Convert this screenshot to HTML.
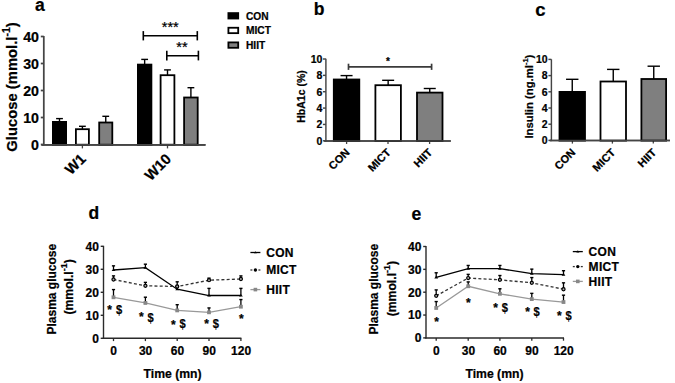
<!DOCTYPE html>
<html><head><meta charset="utf-8"><style>
html,body{margin:0;padding:0;background:#fff;width:675px;height:383px;overflow:hidden}
svg{display:block;font-family:"Liberation Sans", sans-serif}
text{stroke:#000;stroke-width:0.22px}
</style></head><body>
<svg width="675" height="383" viewBox="0 0 675 383">
<rect width="675" height="383" fill="#fff"/>
<text x="35.0" y="10.8" font-size="17.5" font-weight="bold" text-anchor="start" fill="#000" >a</text>
<line x1="43.8" y1="36.0" x2="43.8" y2="145.2" stroke="#454545" stroke-width="1.75" />
<line x1="40.8" y1="144.5" x2="43.8" y2="144.5" stroke="#454545" stroke-width="1.75" />
<text x="39.0" y="149.5" font-size="14.2" font-weight="bold" text-anchor="end" fill="#000" >0</text>
<line x1="40.8" y1="117.5" x2="43.8" y2="117.5" stroke="#454545" stroke-width="1.75" />
<text x="39.0" y="122.5" font-size="14.2" font-weight="bold" text-anchor="end" fill="#000" >10</text>
<line x1="40.8" y1="90.5" x2="43.8" y2="90.5" stroke="#454545" stroke-width="1.75" />
<text x="39.0" y="95.5" font-size="14.2" font-weight="bold" text-anchor="end" fill="#000" >20</text>
<line x1="40.8" y1="63.5" x2="43.8" y2="63.5" stroke="#454545" stroke-width="1.75" />
<text x="39.0" y="68.5" font-size="14.2" font-weight="bold" text-anchor="end" fill="#000" >30</text>
<line x1="40.8" y1="36.5" x2="43.8" y2="36.5" stroke="#454545" stroke-width="1.75" />
<text x="39.0" y="41.5" font-size="14.2" font-weight="bold" text-anchor="end" fill="#000" >40</text>
<line x1="41.5" y1="144.8" x2="205.5" y2="144.8" stroke="#454545" stroke-width="1.8" />
<line x1="82.4" y1="144.5" x2="82.4" y2="148.4" stroke="#454545" stroke-width="1.3" />
<line x1="167.5" y1="144.5" x2="167.5" y2="148.4" stroke="#454545" stroke-width="1.3" />
<rect x="52.90" y="121.90" width="13.20" height="22.80" fill="#000" stroke="#000" stroke-width="1.8"/>
<line x1="59.5" y1="122" x2="59.5" y2="118.6" stroke="#000" stroke-width="1.4" />
<line x1="56.1" y1="118.6" x2="62.9" y2="118.6" stroke="#000" stroke-width="1.4" />
<rect x="75.90" y="129.20" width="13.00" height="15.50" fill="#fff" stroke="#000" stroke-width="1.8"/>
<line x1="82.4" y1="129.3" x2="82.4" y2="126.3" stroke="#000" stroke-width="1.4" />
<line x1="79.0" y1="126.3" x2="85.80000000000001" y2="126.3" stroke="#000" stroke-width="1.4" />
<rect x="99.20" y="122.50" width="13.10" height="22.20" fill="#7f7f7f" stroke="#000" stroke-width="1.8"/>
<line x1="105.75" y1="122.6" x2="105.75" y2="116.3" stroke="#000" stroke-width="1.4" />
<line x1="102.35" y1="116.3" x2="109.15" y2="116.3" stroke="#000" stroke-width="1.4" />
<rect x="137.90" y="64.60" width="13.50" height="80.10" fill="#000" stroke="#000" stroke-width="1.8"/>
<line x1="144.65" y1="64.7" x2="144.65" y2="59.4" stroke="#000" stroke-width="1.4" />
<line x1="141.25" y1="59.4" x2="148.05" y2="59.4" stroke="#000" stroke-width="1.4" />
<rect x="160.60" y="75.20" width="13.80" height="69.50" fill="#fff" stroke="#000" stroke-width="1.8"/>
<line x1="167.5" y1="75.3" x2="167.5" y2="69.9" stroke="#000" stroke-width="1.4" />
<line x1="164.1" y1="69.9" x2="170.9" y2="69.9" stroke="#000" stroke-width="1.4" />
<rect x="184.10" y="97.50" width="13.60" height="47.20" fill="#7f7f7f" stroke="#000" stroke-width="1.8"/>
<line x1="190.89999999999998" y1="97.6" x2="190.89999999999998" y2="87.7" stroke="#000" stroke-width="1.4" />
<line x1="187.49999999999997" y1="87.7" x2="194.29999999999998" y2="87.7" stroke="#000" stroke-width="1.4" />
<line x1="41.5" y1="144.8" x2="205.5" y2="144.8" stroke="#454545" stroke-width="1.8" />
<line x1="143.3" y1="35.7" x2="197.3" y2="35.7" stroke="#000" stroke-width="1.6" />
<line x1="143.3" y1="31.1" x2="143.3" y2="40.4" stroke="#000" stroke-width="1.6" />
<line x1="197.3" y1="31.1" x2="197.3" y2="40.4" stroke="#000" stroke-width="1.6" />
<line x1="166.8" y1="55.7" x2="198.4" y2="55.7" stroke="#000" stroke-width="1.6" />
<line x1="166.8" y1="50.7" x2="166.8" y2="60.4" stroke="#000" stroke-width="1.6" />
<line x1="198.4" y1="50.7" x2="198.4" y2="60.4" stroke="#000" stroke-width="1.6" />
<text x="170.3" y="31.6" font-size="14.5" font-weight="normal" text-anchor="middle" fill="#000" stroke="#000" stroke-width="0.25">***</text>
<text x="181.9" y="51.8" font-size="14.5" font-weight="normal" text-anchor="middle" fill="#000" stroke="#000" stroke-width="0.25">**</text>
<text transform="translate(17.0,87.0) rotate(-90)" font-size="14.8" font-weight="bold" text-anchor="middle">Glucose (mmol.l<tspan font-size="10.5" dy="-7">-1</tspan><tspan dy="7">)</tspan></text>
<text transform="translate(86.8,159.9) rotate(-45)" font-size="14.8" font-weight="bold" text-anchor="end">W1</text>
<text transform="translate(172.2,159.9) rotate(-45)" font-size="14.8" font-weight="bold" text-anchor="end">W10</text>
<rect x="228.4" y="13.10" width="9.8" height="5.4" fill="#000" stroke="#000" stroke-width="1.8"/>
<text x="246" y="19.8" font-size="10.2" font-weight="bold" text-anchor="start" fill="#000" >CON</text>
<rect x="228.4" y="27.75" width="9.8" height="5.4" fill="#fff" stroke="#000" stroke-width="1.8"/>
<text x="246" y="34.2" font-size="10.2" font-weight="bold" text-anchor="start" fill="#000" >MICT</text>
<rect x="228.4" y="42.40" width="9.8" height="5.4" fill="#7f7f7f" stroke="#000" stroke-width="1.8"/>
<text x="246" y="49.3" font-size="10.2" font-weight="bold" text-anchor="start" fill="#000" >HIIT</text>
<text x="313.8" y="14.7" font-size="17.5" font-weight="bold" text-anchor="start" fill="#000" >b</text>
<line x1="325.9" y1="58.8" x2="325.9" y2="141.5" stroke="#454545" stroke-width="1.45" />
<line x1="322.9" y1="140.8" x2="325.9" y2="140.8" stroke="#454545" stroke-width="1.45" />
<text x="322.4" y="144.60000000000002" font-size="10.5" font-weight="bold" text-anchor="end" fill="#000" >0</text>
<line x1="322.9" y1="124.44000000000001" x2="325.9" y2="124.44000000000001" stroke="#454545" stroke-width="1.45" />
<text x="322.4" y="128.24" font-size="10.5" font-weight="bold" text-anchor="end" fill="#000" >2</text>
<line x1="322.9" y1="108.08000000000001" x2="325.9" y2="108.08000000000001" stroke="#454545" stroke-width="1.45" />
<text x="322.4" y="111.88000000000001" font-size="10.5" font-weight="bold" text-anchor="end" fill="#000" >4</text>
<line x1="322.9" y1="91.72000000000001" x2="325.9" y2="91.72000000000001" stroke="#454545" stroke-width="1.45" />
<text x="322.4" y="95.52000000000001" font-size="10.5" font-weight="bold" text-anchor="end" fill="#000" >6</text>
<line x1="322.9" y1="75.36000000000001" x2="325.9" y2="75.36000000000001" stroke="#454545" stroke-width="1.45" />
<text x="322.4" y="79.16000000000001" font-size="10.5" font-weight="bold" text-anchor="end" fill="#000" >8</text>
<line x1="322.9" y1="59.000000000000014" x2="325.9" y2="59.000000000000014" stroke="#454545" stroke-width="1.45" />
<text x="322.4" y="62.80000000000001" font-size="10.5" font-weight="bold" text-anchor="end" fill="#000" >10</text>
<line x1="324.2" y1="140.95000000000002" x2="450.8" y2="140.95000000000002" stroke="#454545" stroke-width="1.45" />
<line x1="346.6" y1="140.8" x2="346.6" y2="144.0" stroke="#454545" stroke-width="1.3" />
<line x1="388.0" y1="140.8" x2="388.0" y2="144.0" stroke="#454545" stroke-width="1.3" />
<line x1="429.6" y1="140.8" x2="429.6" y2="144.0" stroke="#454545" stroke-width="1.3" />
<rect x="333.80" y="79.50" width="25.50" height="61.50" fill="#000" stroke="#000" stroke-width="1.8"/>
<line x1="346.54999999999995" y1="79.6" x2="346.54999999999995" y2="75.6" stroke="#000" stroke-width="1.4" />
<line x1="340.54999999999995" y1="75.6" x2="352.54999999999995" y2="75.6" stroke="#000" stroke-width="1.4" />
<rect x="375.40" y="85.20" width="25.50" height="55.80" fill="#fff" stroke="#000" stroke-width="1.8"/>
<line x1="388.15" y1="85.3" x2="388.15" y2="80.3" stroke="#000" stroke-width="1.4" />
<line x1="382.15" y1="80.3" x2="394.15" y2="80.3" stroke="#000" stroke-width="1.4" />
<rect x="417.00" y="92.60" width="25.50" height="48.40" fill="#7f7f7f" stroke="#000" stroke-width="1.8"/>
<line x1="429.75" y1="92.7" x2="429.75" y2="88.5" stroke="#000" stroke-width="1.4" />
<line x1="423.75" y1="88.5" x2="435.75" y2="88.5" stroke="#000" stroke-width="1.4" />
<line x1="324.2" y1="140.95000000000002" x2="450.8" y2="140.95000000000002" stroke="#454545" stroke-width="1.45" />
<line x1="348.5" y1="66.8" x2="431.6" y2="66.8" stroke="#3a3a3a" stroke-width="1.7" />
<line x1="348.5" y1="63.7" x2="348.5" y2="69.9" stroke="#3a3a3a" stroke-width="1.7" />
<line x1="431.6" y1="63.7" x2="431.6" y2="69.9" stroke="#3a3a3a" stroke-width="1.7" />
<text x="388.0" y="64.8" font-size="10" font-weight="bold" text-anchor="middle" fill="#000" >*</text>
<text transform="translate(305.3,96.5) rotate(-90)" font-size="10.5" font-weight="bold" text-anchor="middle">HbA1c (%)</text>
<text transform="translate(350.4,153.2) rotate(-45)" font-size="11" font-weight="bold" text-anchor="end">CON</text>
<text transform="translate(391.4,153.2) rotate(-45)" font-size="11" font-weight="bold" text-anchor="end">MICT</text>
<text transform="translate(432.9,153.2) rotate(-45)" font-size="11" font-weight="bold" text-anchor="end">HIIT</text>
<text x="535.3" y="15.7" font-size="18.5" font-weight="bold" text-anchor="start" fill="#000" >c</text>
<line x1="551.4" y1="59.3" x2="551.4" y2="141.1" stroke="#454545" stroke-width="1.45" />
<line x1="548.4" y1="140.4" x2="551.4" y2="140.4" stroke="#454545" stroke-width="1.45" />
<text x="547.6" y="144.20000000000002" font-size="10.5" font-weight="bold" text-anchor="end" fill="#000" >0</text>
<line x1="548.4" y1="124.2" x2="551.4" y2="124.2" stroke="#454545" stroke-width="1.45" />
<text x="547.6" y="128.0" font-size="10.5" font-weight="bold" text-anchor="end" fill="#000" >2</text>
<line x1="548.4" y1="108.0" x2="551.4" y2="108.0" stroke="#454545" stroke-width="1.45" />
<text x="547.6" y="111.8" font-size="10.5" font-weight="bold" text-anchor="end" fill="#000" >4</text>
<line x1="548.4" y1="91.80000000000001" x2="551.4" y2="91.80000000000001" stroke="#454545" stroke-width="1.45" />
<text x="547.6" y="95.60000000000001" font-size="10.5" font-weight="bold" text-anchor="end" fill="#000" >6</text>
<line x1="548.4" y1="75.60000000000001" x2="551.4" y2="75.60000000000001" stroke="#454545" stroke-width="1.45" />
<text x="547.6" y="79.4" font-size="10.5" font-weight="bold" text-anchor="end" fill="#000" >8</text>
<line x1="548.4" y1="59.400000000000006" x2="551.4" y2="59.400000000000006" stroke="#454545" stroke-width="1.45" />
<text x="547.6" y="63.2" font-size="10.5" font-weight="bold" text-anchor="end" fill="#000" >10</text>
<line x1="549.8" y1="140.55" x2="670" y2="140.55" stroke="#454545" stroke-width="1.45" />
<line x1="572.4" y1="140.4" x2="572.4" y2="143.6" stroke="#454545" stroke-width="1.3" />
<line x1="612.4" y1="140.4" x2="612.4" y2="143.6" stroke="#454545" stroke-width="1.3" />
<line x1="653.3" y1="140.4" x2="653.3" y2="143.6" stroke="#454545" stroke-width="1.3" />
<rect x="559.50" y="91.90" width="25.50" height="48.70" fill="#000" stroke="#000" stroke-width="1.8"/>
<line x1="572.25" y1="92" x2="572.25" y2="79.3" stroke="#000" stroke-width="1.4" />
<line x1="566.05" y1="79.3" x2="578.45" y2="79.3" stroke="#000" stroke-width="1.4" />
<rect x="600.50" y="81.50" width="25.50" height="59.10" fill="#fff" stroke="#000" stroke-width="1.8"/>
<line x1="613.25" y1="81.6" x2="613.25" y2="69.4" stroke="#000" stroke-width="1.4" />
<line x1="607.05" y1="69.4" x2="619.45" y2="69.4" stroke="#000" stroke-width="1.4" />
<rect x="641.40" y="79.00" width="24.70" height="61.60" fill="#7f7f7f" stroke="#000" stroke-width="1.8"/>
<line x1="653.75" y1="79.1" x2="653.75" y2="66.2" stroke="#000" stroke-width="1.4" />
<line x1="647.55" y1="66.2" x2="659.95" y2="66.2" stroke="#000" stroke-width="1.4" />
<line x1="549.8" y1="140.55" x2="670" y2="140.55" stroke="#454545" stroke-width="1.45" />
<text transform="translate(532.6,96.6) rotate(-90)" font-size="11.3" font-weight="bold" text-anchor="middle">Insulin (ng.ml<tspan font-size="7.5" dy="-4.5">-1</tspan><tspan dy="4.5">)</tspan></text>
<text transform="translate(576.2,153.2) rotate(-45)" font-size="11" font-weight="bold" text-anchor="end">CON</text>
<text transform="translate(616.0,153.2) rotate(-45)" font-size="11" font-weight="bold" text-anchor="end">MICT</text>
<text transform="translate(657.0,153.2) rotate(-45)" font-size="11" font-weight="bold" text-anchor="end">HIIT</text>
<line x1="103.5" y1="245.8" x2="103.5" y2="339.0" stroke="#2a2a2a" stroke-width="1.4" />
<line x1="100.7" y1="338.3" x2="103.5" y2="338.3" stroke="#2a2a2a" stroke-width="1.4" />
<text x="98.9" y="342.6" font-size="12" font-weight="bold" text-anchor="end" fill="#000" >0</text>
<line x1="100.7" y1="315.3" x2="103.5" y2="315.3" stroke="#2a2a2a" stroke-width="1.4" />
<text x="98.9" y="319.6" font-size="12" font-weight="bold" text-anchor="end" fill="#000" >10</text>
<line x1="100.7" y1="292.3" x2="103.5" y2="292.3" stroke="#2a2a2a" stroke-width="1.4" />
<text x="98.9" y="296.6" font-size="12" font-weight="bold" text-anchor="end" fill="#000" >20</text>
<line x1="100.7" y1="269.3" x2="103.5" y2="269.3" stroke="#2a2a2a" stroke-width="1.4" />
<text x="98.9" y="273.6" font-size="12" font-weight="bold" text-anchor="end" fill="#000" >30</text>
<line x1="100.7" y1="246.3" x2="103.5" y2="246.3" stroke="#2a2a2a" stroke-width="1.4" />
<text x="98.9" y="250.60000000000002" font-size="12" font-weight="bold" text-anchor="end" fill="#000" >40</text>
<line x1="102.8" y1="338.3" x2="241.4" y2="338.3" stroke="#2a2a2a" stroke-width="1.5" />
<line x1="113.5" y1="338.3" x2="113.5" y2="341.1" stroke="#2a2a2a" stroke-width="1.3" />
<text x="113.7" y="354.9" font-size="12" font-weight="bold" text-anchor="middle" fill="#000" >0</text>
<line x1="145.4" y1="338.3" x2="145.4" y2="341.1" stroke="#2a2a2a" stroke-width="1.3" />
<text x="145.6" y="354.9" font-size="12" font-weight="bold" text-anchor="middle" fill="#000" >30</text>
<line x1="177.2" y1="338.3" x2="177.2" y2="341.1" stroke="#2a2a2a" stroke-width="1.3" />
<text x="177.39999999999998" y="354.9" font-size="12" font-weight="bold" text-anchor="middle" fill="#000" >60</text>
<line x1="209.0" y1="338.3" x2="209.0" y2="341.1" stroke="#2a2a2a" stroke-width="1.3" />
<text x="209.2" y="354.9" font-size="12" font-weight="bold" text-anchor="middle" fill="#000" >90</text>
<line x1="240.9" y1="338.3" x2="240.9" y2="341.1" stroke="#2a2a2a" stroke-width="1.3" />
<text x="241.1" y="354.9" font-size="12" font-weight="bold" text-anchor="middle" fill="#000" >120</text>
<text x="172.6" y="377.5" font-size="12.2" font-weight="bold" text-anchor="middle" fill="#000" >Time (mn)</text>
<text x="88.4" y="219.2" font-size="17.5" font-weight="bold" text-anchor="start" fill="#000" >d</text>
<path d="M113.50,269.99 L145.40,267.60 L177.20,289.19 L209.00,295.52 L240.90,295.52" fill="none" stroke="#000" stroke-width="1.3" />
<path d="M113.50,279.49 L145.40,285.79 L177.20,286.50 L209.00,280.20 L240.90,279.01" fill="none" stroke="#333" stroke-width="1.3" stroke-dasharray="3,2.2"/>
<path d="M113.50,297.29 L145.40,302.95 L177.20,310.40 L209.00,312.31 L240.90,306.70" fill="none" stroke="#999" stroke-width="1.3" />
<line x1="113.5" y1="269.99" x2="113.5" y2="265.85" stroke="#000" stroke-width="1.3" />
<line x1="111.9" y1="265.85" x2="115.1" y2="265.85" stroke="#000" stroke-width="1.4" />
<line x1="145.4" y1="267.598" x2="145.4" y2="264.194" stroke="#000" stroke-width="1.3" />
<line x1="143.8" y1="264.194" x2="147.0" y2="264.194" stroke="#000" stroke-width="1.4" />
<line x1="177.2" y1="289.195" x2="177.2" y2="286.435" stroke="#000" stroke-width="1.3" />
<line x1="175.6" y1="286.435" x2="178.79999999999998" y2="286.435" stroke="#000" stroke-width="1.4" />
<line x1="209.0" y1="295.52" x2="209.0" y2="288.39" stroke="#000" stroke-width="1.3" />
<line x1="207.4" y1="288.39" x2="210.6" y2="288.39" stroke="#000" stroke-width="1.4" />
<line x1="240.9" y1="295.52" x2="240.9" y2="288.39" stroke="#000" stroke-width="1.3" />
<line x1="239.3" y1="288.39" x2="242.5" y2="288.39" stroke="#000" stroke-width="1.4" />
<path d="M111.60,271.09 L115.40,271.09 L113.50,268.39Z" fill="#000"/>
<path d="M143.50,268.70 L147.30,268.70 L145.40,266.00Z" fill="#000"/>
<path d="M175.30,290.30 L179.10,290.30 L177.20,287.59Z" fill="#000"/>
<path d="M207.10,296.62 L210.90,296.62 L209.00,293.92Z" fill="#000"/>
<path d="M239.00,296.62 L242.80,296.62 L240.90,293.92Z" fill="#000"/>
<line x1="113.5" y1="279.48900000000003" x2="113.5" y2="275.87800000000004" stroke="#000" stroke-width="1.3" />
<line x1="111.9" y1="275.87800000000004" x2="115.1" y2="275.87800000000004" stroke="#000" stroke-width="1.4" />
<line x1="145.4" y1="285.791" x2="145.4" y2="282.387" stroke="#000" stroke-width="1.3" />
<line x1="143.8" y1="282.387" x2="147.0" y2="282.387" stroke="#000" stroke-width="1.4" />
<line x1="177.2" y1="286.504" x2="177.2" y2="281.812" stroke="#000" stroke-width="1.3" />
<line x1="175.6" y1="281.812" x2="178.79999999999998" y2="281.812" stroke="#000" stroke-width="1.4" />
<line x1="209.0" y1="280.202" x2="209.0" y2="278.132" stroke="#000" stroke-width="1.3" />
<line x1="207.4" y1="278.132" x2="210.6" y2="278.132" stroke="#000" stroke-width="1.4" />
<line x1="240.9" y1="279.00600000000003" x2="240.9" y2="275.901" stroke="#000" stroke-width="1.3" />
<line x1="239.3" y1="275.901" x2="242.5" y2="275.901" stroke="#000" stroke-width="1.4" />
<circle cx="113.5" cy="279.49" r="1.55" fill="#aaa" stroke="#000" stroke-width="1.2"/>
<circle cx="145.4" cy="285.79" r="1.55" fill="#aaa" stroke="#000" stroke-width="1.2"/>
<circle cx="177.2" cy="286.50" r="1.55" fill="#aaa" stroke="#000" stroke-width="1.2"/>
<circle cx="209.0" cy="280.20" r="1.55" fill="#aaa" stroke="#000" stroke-width="1.2"/>
<circle cx="240.9" cy="279.01" r="1.55" fill="#aaa" stroke="#000" stroke-width="1.2"/>
<line x1="113.5" y1="297.291" x2="113.5" y2="289.586" stroke="#000" stroke-width="1.3" />
<line x1="111.9" y1="289.586" x2="115.1" y2="289.586" stroke="#000" stroke-width="1.4" />
<line x1="145.4" y1="302.949" x2="145.4" y2="297.199" stroke="#000" stroke-width="1.3" />
<line x1="143.8" y1="297.199" x2="147.0" y2="297.199" stroke="#000" stroke-width="1.4" />
<line x1="177.2" y1="310.401" x2="177.2" y2="304.697" stroke="#000" stroke-width="1.3" />
<line x1="175.6" y1="304.697" x2="178.79999999999998" y2="304.697" stroke="#000" stroke-width="1.4" />
<line x1="209.0" y1="312.31" x2="209.0" y2="307.94" stroke="#000" stroke-width="1.3" />
<line x1="207.4" y1="307.94" x2="210.6" y2="307.94" stroke="#000" stroke-width="1.4" />
<line x1="240.9" y1="306.69800000000004" x2="240.9" y2="299.56800000000004" stroke="#000" stroke-width="1.3" />
<line x1="239.3" y1="299.56800000000004" x2="242.5" y2="299.56800000000004" stroke="#000" stroke-width="1.4" />
<rect x="111.60" y="295.39" width="3.8" height="3.8" fill="#888"/>
<rect x="143.50" y="301.05" width="3.8" height="3.8" fill="#888"/>
<rect x="175.30" y="308.50" width="3.8" height="3.8" fill="#888"/>
<rect x="207.10" y="310.41" width="3.8" height="3.8" fill="#888"/>
<rect x="239.00" y="304.80" width="3.8" height="3.8" fill="#888"/>
<text x="107.2" y="314.3" font-size="12" font-weight="bold" text-anchor="start" fill="#000" >*</text>
<text transform="translate(115.90,314.30) scale(0.86,1)" font-size="13" font-weight="bold">$</text>
<text x="139.1" y="321.3" font-size="12" font-weight="bold" text-anchor="start" fill="#000" >*</text>
<text transform="translate(147.50,321.50) scale(0.86,1)" font-size="13" font-weight="bold">$</text>
<text x="171.0" y="328.7" font-size="12" font-weight="bold" text-anchor="start" fill="#000" >*</text>
<text transform="translate(179.40,328.20) scale(0.86,1)" font-size="13" font-weight="bold">$</text>
<text x="204.3" y="328.3" font-size="12" font-weight="bold" text-anchor="start" fill="#000" >*</text>
<text transform="translate(212.80,327.70) scale(0.86,1)" font-size="13" font-weight="bold">$</text>
<text x="239.1" y="322.6" font-size="12" font-weight="bold" text-anchor="start" fill="#000" >*</text>
<line x1="250.4" y1="252.5" x2="260.4" y2="252.5" stroke="#000" stroke-width="1.3"/>
<path d="M253.9,253.3 L256.9,253.3 L255.4,251.2Z" fill="#000"/>
<text x="266.2" y="256.8" font-size="12" font-weight="bold" text-anchor="start" fill="#000" letter-spacing="0.3">CON</text>
<line x1="250.4" y1="270.0" x2="252.4" y2="270.0" stroke="#333" stroke-width="1.3"/>
<line x1="258.4" y1="270.0" x2="260.4" y2="270.0" stroke="#333" stroke-width="1.3"/>
<circle cx="255.4" cy="270.0" r="1.7" fill="#000"/>
<text x="266.2" y="274.3" font-size="12" font-weight="bold" text-anchor="start" fill="#000" letter-spacing="0.3">MICT</text>
<line x1="250.4" y1="289.6" x2="260.4" y2="289.6" stroke="#999" stroke-width="1.3"/>
<rect x="253.6" y="287.8" width="3.6" height="3.6" fill="#888"/>
<text x="266.2" y="293.90000000000003" font-size="12" font-weight="bold" text-anchor="start" fill="#000" letter-spacing="0.3">HIIT</text>
<text transform="translate(56.3,289.2) rotate(-90)" font-size="12" font-weight="bold" text-anchor="middle">Plasma glucose</text>
<text transform="translate(73.0,286.9) rotate(-90)" font-size="12.2" font-weight="bold" text-anchor="middle">(mmol.l<tspan font-size="9" dy="-5.6">-1</tspan><tspan dy="5.6">)</tspan></text>
<line x1="426.0" y1="245.99999999999997" x2="426.0" y2="338.59999999999997" stroke="#2a2a2a" stroke-width="1.4" />
<line x1="423.2" y1="337.9" x2="426.0" y2="337.9" stroke="#2a2a2a" stroke-width="1.4" />
<text x="421.4" y="342.2" font-size="12" font-weight="bold" text-anchor="end" fill="#000" >0</text>
<line x1="423.2" y1="315.04999999999995" x2="426.0" y2="315.04999999999995" stroke="#2a2a2a" stroke-width="1.4" />
<text x="421.4" y="319.34999999999997" font-size="12" font-weight="bold" text-anchor="end" fill="#000" >10</text>
<line x1="423.2" y1="292.2" x2="426.0" y2="292.2" stroke="#2a2a2a" stroke-width="1.4" />
<text x="421.4" y="296.5" font-size="12" font-weight="bold" text-anchor="end" fill="#000" >20</text>
<line x1="423.2" y1="269.34999999999997" x2="426.0" y2="269.34999999999997" stroke="#2a2a2a" stroke-width="1.4" />
<text x="421.4" y="273.65" font-size="12" font-weight="bold" text-anchor="end" fill="#000" >30</text>
<line x1="423.2" y1="246.49999999999997" x2="426.0" y2="246.49999999999997" stroke="#2a2a2a" stroke-width="1.4" />
<text x="421.4" y="250.79999999999998" font-size="12" font-weight="bold" text-anchor="end" fill="#000" >40</text>
<line x1="425.3" y1="337.9" x2="564.0" y2="337.9" stroke="#2a2a2a" stroke-width="1.5" />
<line x1="436.2" y1="337.9" x2="436.2" y2="340.7" stroke="#2a2a2a" stroke-width="1.3" />
<text x="436.4" y="354.9" font-size="12" font-weight="bold" text-anchor="middle" fill="#000" >0</text>
<line x1="468.2" y1="337.9" x2="468.2" y2="340.7" stroke="#2a2a2a" stroke-width="1.3" />
<text x="468.4" y="354.9" font-size="12" font-weight="bold" text-anchor="middle" fill="#000" >30</text>
<line x1="499.9" y1="337.9" x2="499.9" y2="340.7" stroke="#2a2a2a" stroke-width="1.3" />
<text x="500.09999999999997" y="354.9" font-size="12" font-weight="bold" text-anchor="middle" fill="#000" >60</text>
<line x1="531.8" y1="337.9" x2="531.8" y2="340.7" stroke="#2a2a2a" stroke-width="1.3" />
<text x="532.0" y="354.9" font-size="12" font-weight="bold" text-anchor="middle" fill="#000" >90</text>
<line x1="563.5" y1="337.9" x2="563.5" y2="340.7" stroke="#2a2a2a" stroke-width="1.3" />
<text x="563.7" y="354.9" font-size="12" font-weight="bold" text-anchor="middle" fill="#000" >120</text>
<text x="494.5" y="377.5" font-size="12.2" font-weight="bold" text-anchor="middle" fill="#000" >Time (mn)</text>
<text x="411.6" y="220" font-size="17.5" font-weight="bold" text-anchor="start" fill="#000" >e</text>
<path d="M436.20,277.35 L468.20,268.66 L499.90,268.66 L531.80,273.69 L563.50,274.61" fill="none" stroke="#000" stroke-width="1.3" />
<path d="M436.20,295.86 L468.20,278.03 L499.90,279.86 L531.80,282.83 L563.50,289.23" fill="none" stroke="#333" stroke-width="1.3" stroke-dasharray="3,2.2"/>
<path d="M436.20,307.97 L468.20,286.26 L499.90,293.80 L531.80,299.08 L563.50,302.03" fill="none" stroke="#999" stroke-width="1.3" />
<line x1="436.2" y1="277.34749999999997" x2="436.2" y2="272.7775" stroke="#000" stroke-width="1.3" />
<line x1="434.59999999999997" y1="272.7775" x2="437.8" y2="272.7775" stroke="#000" stroke-width="1.4" />
<line x1="468.2" y1="268.6645" x2="468.2" y2="265.46549999999996" stroke="#000" stroke-width="1.3" />
<line x1="466.59999999999997" y1="265.46549999999996" x2="469.8" y2="265.46549999999996" stroke="#000" stroke-width="1.4" />
<line x1="499.9" y1="268.6645" x2="499.9" y2="265.46549999999996" stroke="#000" stroke-width="1.3" />
<line x1="498.29999999999995" y1="265.46549999999996" x2="501.5" y2="265.46549999999996" stroke="#000" stroke-width="1.4" />
<line x1="531.8" y1="273.69149999999996" x2="531.8" y2="269.12149999999997" stroke="#000" stroke-width="1.3" />
<line x1="530.1999999999999" y1="269.12149999999997" x2="533.4" y2="269.12149999999997" stroke="#000" stroke-width="1.4" />
<line x1="563.5" y1="274.6055" x2="563.5" y2="270.721" stroke="#000" stroke-width="1.3" />
<line x1="561.9" y1="270.721" x2="565.1" y2="270.721" stroke="#000" stroke-width="1.4" />
<path d="M434.30,278.45 L438.10,278.45 L436.20,275.75Z" fill="#000"/>
<path d="M466.30,269.76 L470.10,269.76 L468.20,267.06Z" fill="#000"/>
<path d="M498.00,269.76 L501.80,269.76 L499.90,267.06Z" fill="#000"/>
<path d="M529.90,274.79 L533.70,274.79 L531.80,272.09Z" fill="#000"/>
<path d="M561.60,275.71 L565.40,275.71 L563.50,273.01Z" fill="#000"/>
<line x1="436.2" y1="295.856" x2="436.2" y2="289.915" stroke="#000" stroke-width="1.3" />
<line x1="434.59999999999997" y1="289.915" x2="437.8" y2="289.915" stroke="#000" stroke-width="1.4" />
<line x1="468.2" y1="278.03299999999996" x2="468.2" y2="274.37699999999995" stroke="#000" stroke-width="1.3" />
<line x1="466.59999999999997" y1="274.37699999999995" x2="469.8" y2="274.37699999999995" stroke="#000" stroke-width="1.4" />
<line x1="499.9" y1="279.861" x2="499.9" y2="275.5195" stroke="#000" stroke-width="1.3" />
<line x1="498.29999999999995" y1="275.5195" x2="501.5" y2="275.5195" stroke="#000" stroke-width="1.4" />
<line x1="531.8" y1="282.83149999999995" x2="531.8" y2="277.57599999999996" stroke="#000" stroke-width="1.3" />
<line x1="530.1999999999999" y1="277.57599999999996" x2="533.4" y2="277.57599999999996" stroke="#000" stroke-width="1.4" />
<line x1="563.5" y1="289.2295" x2="563.5" y2="282.83149999999995" stroke="#000" stroke-width="1.3" />
<line x1="561.9" y1="282.83149999999995" x2="565.1" y2="282.83149999999995" stroke="#000" stroke-width="1.4" />
<circle cx="436.2" cy="295.86" r="1.55" fill="#aaa" stroke="#000" stroke-width="1.2"/>
<circle cx="468.2" cy="278.03" r="1.55" fill="#aaa" stroke="#000" stroke-width="1.2"/>
<circle cx="499.9" cy="279.86" r="1.55" fill="#aaa" stroke="#000" stroke-width="1.2"/>
<circle cx="531.8" cy="282.83" r="1.55" fill="#aaa" stroke="#000" stroke-width="1.2"/>
<circle cx="563.5" cy="289.23" r="1.55" fill="#aaa" stroke="#000" stroke-width="1.2"/>
<line x1="436.2" y1="307.9665" x2="436.2" y2="301.5685" stroke="#000" stroke-width="1.3" />
<line x1="434.59999999999997" y1="301.5685" x2="437.8" y2="301.5685" stroke="#000" stroke-width="1.4" />
<line x1="468.2" y1="286.25899999999996" x2="468.2" y2="281.91749999999996" stroke="#000" stroke-width="1.3" />
<line x1="466.59999999999997" y1="281.91749999999996" x2="469.8" y2="281.91749999999996" stroke="#000" stroke-width="1.4" />
<line x1="499.9" y1="293.79949999999997" x2="499.9" y2="288.7725" stroke="#000" stroke-width="1.3" />
<line x1="498.29999999999995" y1="288.7725" x2="501.5" y2="288.7725" stroke="#000" stroke-width="1.4" />
<line x1="531.8" y1="299.07784999999996" x2="531.8" y2="293.36535" stroke="#000" stroke-width="1.3" />
<line x1="530.1999999999999" y1="293.36535" x2="533.4" y2="293.36535" stroke="#000" stroke-width="1.4" />
<line x1="563.5" y1="302.02549999999997" x2="563.5" y2="295.17049999999995" stroke="#000" stroke-width="1.3" />
<line x1="561.9" y1="295.17049999999995" x2="565.1" y2="295.17049999999995" stroke="#000" stroke-width="1.4" />
<rect x="434.30" y="306.07" width="3.8" height="3.8" fill="#888"/>
<rect x="466.30" y="284.36" width="3.8" height="3.8" fill="#888"/>
<rect x="498.00" y="291.90" width="3.8" height="3.8" fill="#888"/>
<rect x="529.90" y="297.18" width="3.8" height="3.8" fill="#888"/>
<rect x="561.60" y="300.13" width="3.8" height="3.8" fill="#888"/>
<text x="434.3" y="325.7" font-size="12" font-weight="bold" text-anchor="start" fill="#000" >*</text>
<text x="466.0" y="306.5" font-size="12" font-weight="bold" text-anchor="start" fill="#000" >*</text>
<text x="493.2" y="312.0" font-size="12" font-weight="bold" text-anchor="start" fill="#000" >*</text>
<text transform="translate(501.80,312.30) scale(0.86,1)" font-size="13" font-weight="bold">$</text>
<text x="525.3" y="316.3" font-size="12" font-weight="bold" text-anchor="start" fill="#000" >*</text>
<text transform="translate(533.40,316.00) scale(0.86,1)" font-size="13" font-weight="bold">$</text>
<text x="557.0" y="320.1" font-size="12" font-weight="bold" text-anchor="start" fill="#000" >*</text>
<text transform="translate(565.40,320.00) scale(0.86,1)" font-size="13" font-weight="bold">$</text>
<line x1="572.8" y1="251.6" x2="582.8" y2="251.6" stroke="#000" stroke-width="1.3"/>
<path d="M576.3,252.4 L579.3,252.4 L577.8,250.29999999999998Z" fill="#000"/>
<text x="588.5999999999999" y="255.9" font-size="12" font-weight="bold" text-anchor="start" fill="#000" letter-spacing="0.3">CON</text>
<line x1="572.8" y1="266.6" x2="574.8" y2="266.6" stroke="#333" stroke-width="1.3"/>
<line x1="580.8" y1="266.6" x2="582.8" y2="266.6" stroke="#333" stroke-width="1.3"/>
<circle cx="577.8" cy="266.6" r="1.7" fill="#000"/>
<text x="588.5999999999999" y="270.90000000000003" font-size="12" font-weight="bold" text-anchor="start" fill="#000" letter-spacing="0.3">MICT</text>
<line x1="572.8" y1="281.4" x2="582.8" y2="281.4" stroke="#999" stroke-width="1.3"/>
<rect x="576.0" y="279.59999999999997" width="3.6" height="3.6" fill="#888"/>
<text x="588.5999999999999" y="285.7" font-size="12" font-weight="bold" text-anchor="start" fill="#000" letter-spacing="0.3">HIIT</text>
<text transform="translate(378.4,289.2) rotate(-90)" font-size="12" font-weight="bold" text-anchor="middle">Plasma glucose</text>
<text transform="translate(396.0,288.6) rotate(-90)" font-size="12.2" font-weight="bold" text-anchor="middle">(mmol.l<tspan font-size="9" dy="-5.6">-1</tspan><tspan dy="5.6">)</tspan></text>
</svg>
</body></html>
